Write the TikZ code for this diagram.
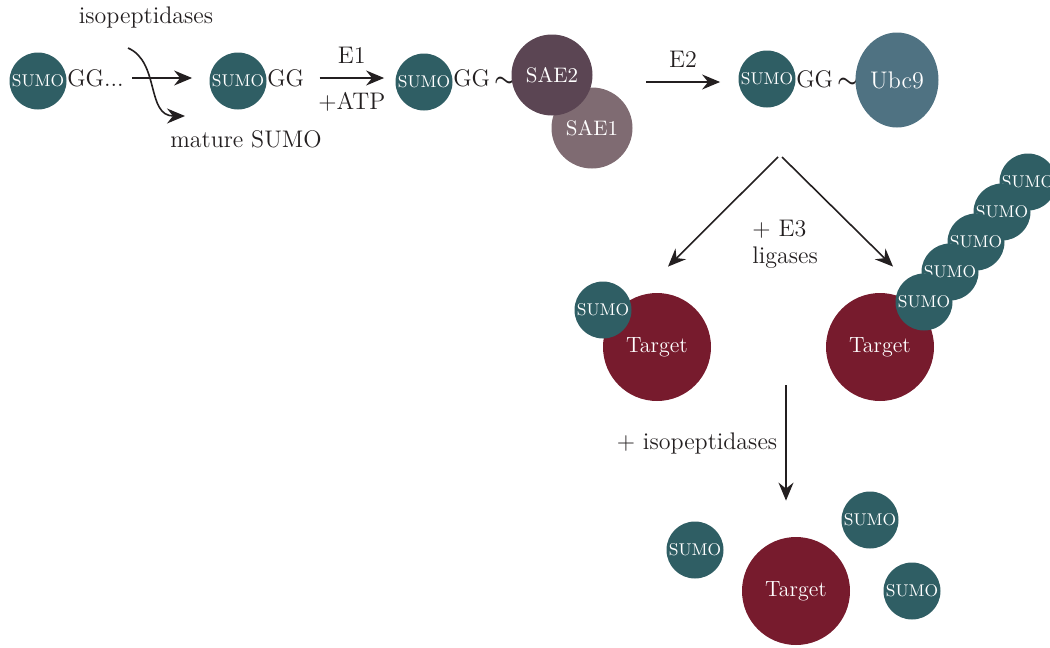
\documentclass[tikz,border=0pt]{standalone}
\usepackage{amsmath}
\usepackage{tikz}
\usetikzlibrary{arrows.meta,positioning}
\usetikzlibrary{shapes.geometric}
\definecolor{sumocol}{HTML}{2F5E64}
\definecolor{targetcol}{HTML}{771B2D}
\definecolor{saetwocol}{HTML}{5B4553}
\definecolor{saeonecol}{HTML}{7F6B72}
\definecolor{ubccol}{HTML}{4F7282}
\definecolor{inkcol}{HTML}{231F20}

\begin{document}
\begin{tikzpicture}[x=0.5pt,y=-0.5pt,
	sumo/.style={circle,fill=sumocol,text=white,minimum size=28.5pt,inner sep=0pt,font=\fontsize{8.5}{9}\selectfont},
	target/.style={circle,fill=targetcol,text=white,minimum size=54pt,inner sep=0pt,font=\fontsize{11}{12}\selectfont},
	sae/.style={circle,text=white,minimum size=40.5pt,inner sep=0pt,font=\fontsize{10.5}{12}\selectfont},
	lbl/.style={text=inkcol,inner sep=0pt,font=\fontsize{12}{13.5}\selectfont},
	arr/.style={draw=inkcol,line width=0.8pt,-{Stealth[length=9pt,width=7.5pt,inset=3pt]}}]
	\clip (0,0) rectangle (1050,648);
	
	% maturation
	\node[sumo] (s1) at (38,81) {SUMO};
	\node[lbl,anchor=west] (gg1) at ([yshift=1.5pt]s1.east) {GG...};
	\node[sumo] (s2) at (238,81) {SUMO};
	\node[lbl,anchor=west] (gg2) at ([yshift=1.5pt]s2.east) {GG};
	\node[lbl] (iso) at (146,18) {isopeptidases};
	\node[lbl] (mat) at (246,139) {mature SUMO};
	\coordinate (cut) at (128,48);
	\coordinate (mend) at (185,116);
	\draw[arr] ([xshift=4pt]gg1.east) -- ([xshift=-8.5pt]s2.west |- gg1.east);
	\draw[arr] (cut) .. controls (160,62) and (146,116) .. (mend);
	
	% E1
	\node[sumo] (s3) at (424,82) {SUMO};
	\node[lbl,anchor=west] (gg3) at ([yshift=2pt]s3.east) {GG\,$\boldsymbol{\sim}$};
	\node[sae,fill=saeonecol] (sae1) at (592,128) {SAE1};
	\node[sae,fill=saetwocol] (sae2) at (552,75) {SAE2};
	\draw[arr] ([xshift=7.5pt]gg2.east) -- ([xshift=-5.5pt]s3.west |- gg2.east) node[lbl,midway,above=7pt] (e1) {E1} node[lbl,midway,below=7pt] (atp) {+ATP};
	
	% E2
	\node[sumo] (s4) at (767,79) {SUMO};
	\node[lbl,anchor=west] (gg4) at ([yshift=0pt]s4.east) {GG\,$\boldsymbol{\sim}$};
	\node[ellipse,fill=ubccol,text=white,minimum width=41.5pt,minimum height=47.5pt,inner sep=0pt,font=\fontsize{12}{13}\selectfont] (ubc) at (897,80) {Ubc9};
	\coordinate (e2s) at (646,82);
	\draw[arr] (e2s) -- ([xshift=-9pt]s4.west |- e2s) node[lbl,midway,above=7pt] (e2) {E2};
	
	% E3
	\coordinate (forkl) at (778,157);
	\coordinate (forkr) at (782,157);
	\node[lbl,align=left,anchor=west] (e3) at (752,244) {+ E3\\ligases};
	\node[target] (t1) at (657,347) {Target};
	\node[sumo] (m1) at (603,310) {SUMO};
	\node[target] (t2) at (880,347) {Target};
	\foreach \i in {4,...,0}
		\node[sumo] (c\i) at ({924+26*\i},{302-30*\i}) {SUMO};
	\draw[arr] (forkl) -- ([xshift=5.5pt,yshift=13pt]t1.north);
	\draw[arr] (forkr) -- ([xshift=6.5pt,yshift=13pt]t2.north);
	
	% deconjugation
	\coordinate (dtop) at (786,385);
	\node[target] (t3) at (796,591) {Target};
	\node[sumo] (f1) at (695,550) {SUMO};
	\node[sumo] (f2) at (870,520) {SUMO};
	\node[sumo] (f3) at (912,591) {SUMO};
	\draw[arr] (dtop) -- ([xshift=-5pt,yshift=18pt]t3.north) node[lbl,midway,left=4pt,yshift=-0.5pt] (iso2) {+ isopeptidases};
\end{tikzpicture}
\end{document}
